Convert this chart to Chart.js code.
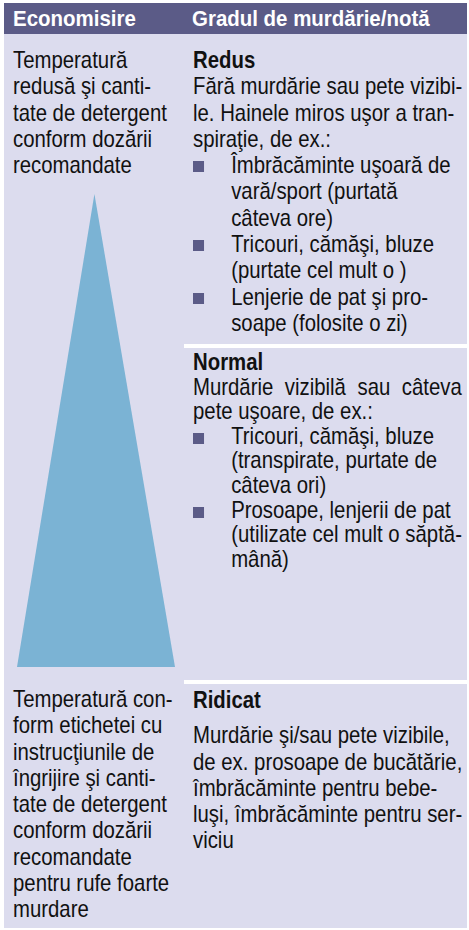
<!DOCTYPE html>
<html>
<head>
<meta charset="utf-8">
<script src="https://cdn.jsdelivr.net/npm/chart.js@4.4.0/dist/chart.umd.min.js"></script>
<style>
  html, body { margin: 0; padding: 0; background: #fff; }
  #page { position: relative; width: 469px; height: 930px; overflow: hidden; }
  .head { position: absolute; left: 4px; top: 3px; width: 463px; height: 31px; background: #5b5b87; }
  .head span { position: absolute; top: 3px; color: #fff; font: bold 22px "Liberation Sans", Arial, sans-serif; transform: scaleX(0.93); transform-origin: 0 0; white-space: nowrap; }
  .bg { position: absolute; left: 4px; top: 34px; width: 463px; height: 894px; background: #dcdcee; }
  .sep { position: absolute; left: 184px; width: 283px; height: 4px; background: #fff; }
  .txt { position: absolute; color: #111; font: 24px "Liberation Sans", Arial, sans-serif; line-height: 26.3px; transform: scaleX(0.848); transform-origin: 0 0; white-space: nowrap; }
  .txt b { font-weight: bold; }
  .li { position: relative; padding-left: 45px; }
  .li::before { content: ""; position: absolute; left: 0; top: 9px; width: 13px; height: 11px; background: #5b5b87; }
  .ind { padding-left: 45px; }
  .just { width: 317px; text-align: justify; text-align-last: justify; }
  #tri { position: absolute; left: 17px; top: 194px; width: 158px; height: 473px; }
</style>
</head>
<body>
<div id="page">
  <div class="head">
    <span style="left:9px">Economisire</span>
    <span style="left:188px">Gradul de murdărie/notă</span>
  </div>
  <div class="bg"></div>
  <div class="sep" style="top:344px"></div>
  <div class="sep" style="top:680px"></div>

  <div class="txt" style="left:13px; top:47px">
    Temperatură<br>redusă şi canti-<br>tate de detergent<br>conform dozării<br>recomandate
  </div>

  <div class="txt" style="left:193px; top:47px">
    <b>Redus</b><br>
    Fără murdărie sau pete vizibi-<br>
    le. Hainele miros uşor a tran-<br>
    spiraţie, de ex.:
    <div class="li">Îmbrăcăminte uşoară de</div>
    <div class="ind">vară/sport (purtată</div>
    <div class="ind">câteva ore)</div>
    <div class="li">Tricouri, cămăşi, bluze</div>
    <div class="ind">(purtate cel mult o )</div>
    <div class="li">Lenjerie de pat şi pro-</div>
    <div class="ind">soape (folosite o zi)</div>
  </div>

  <div class="txt" style="left:193px; top:350px; line-height:24.6px">
    <b>Normal</b>
    <div class="just">Murdărie vizibilă sau câteva</div>
    pete uşoare, de ex.:
    <div class="li">Tricouri, cămăşi, bluze</div>
    <div class="ind">(transpirate, purtate de</div>
    <div class="ind">câteva ori)</div>
    <div class="li">Prosoape, lenjerii de pat</div>
    <div class="ind">(utilizate cel mult o săptă-</div>
    <div class="ind">mână)</div>
  </div>

  <div class="txt" style="left:193px; top:687px">
    <b>Ridicat</b>
    <div style="margin-top:9px">
      Murdărie şi/sau pete vizibile,<br>
      de ex. prosoape de bucătărie,<br>
      îmbrăcăminte pentru bebe-<br>
      luşi, îmbrăcăminte pentru ser-<br>
      viciu
    </div>
  </div>

  <div class="txt" style="left:13px; top:686px">
    Temperatură con-<br>form etichetei cu<br>instrucţiunile de<br>îngrijire şi canti-<br>tate de detergent<br>conform dozării<br>recomandate<br>pentru rufe foarte<br>murdare
  </div>

  <div id="tri"><canvas id="canvas" width="158" height="473"></canvas></div>
</div>

<script>
"use strict";

// triangle outline, left base corner -> apex -> right base corner
var triangleX = [0, 0.49, 1];
var triangleY = [0, 1, 0];

window.onload = function() {
  var ctx = document.getElementById('canvas').getContext('2d');
  window.myTriangle = new Chart(ctx, {
    type: 'line',
    data: {
      datasets: [{
        label: 'Economisire',
        data: triangleX.map(function(x, i) { return { x: x, y: triangleY[i] }; }),
        backgroundColor: '#7bb3d4',
        borderColor: '#7bb3d4',
        borderWidth: 0,
        pointRadius: 0,
        tension: 0,
        fill: 'origin'
      }]
    },
    options: {
      responsive: false,
      animation: false,
      layout: { padding: 0 },
      plugins: {
        legend: { display: false },
        tooltip: { enabled: false }
      },
      scales: {
        x: { type: 'linear', display: false, min: 0, max: 1 },
        y: { display: false, min: 0, max: 1 }
      }
    }
  });
};
</script>
</body>
</html>
